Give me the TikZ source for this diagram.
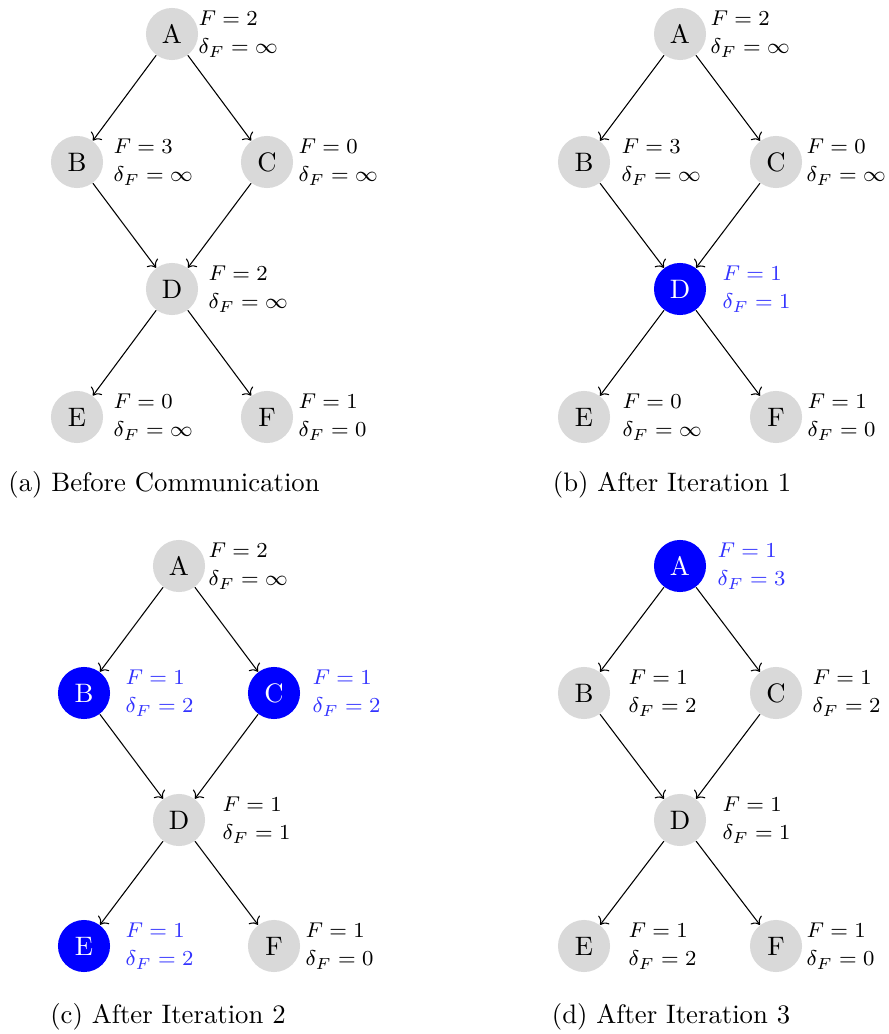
\documentclass[tikz,border=0pt]{standalone}
\usepackage{amsmath,amssymb}
\usepackage{tikz}
\usetikzlibrary{arrows.meta,positioning}
\definecolor{nodegray}{HTML}{d9d9d9}
\definecolor{infoblue}{HTML}{3333ff}

\begin{document}
\begin{tikzpicture}[x=0.3745pt, y=0.3745pt,
  vtx/.style={circle, fill=nodegray, minimum size=19.5pt, inner sep=0pt},
  hot/.style={vtx, fill=blue, text=white},
  info/.style={anchor=west, inner sep=0pt, align=left, font={\fontsize{8}{10.6}\selectfont}},
  hotinfo/.style={info, text=infoblue},
  flow/.style={->, thin}]
\useasboundingbox (0,0) rectangle (888,-1034);

% (a) before communication
\node[vtx] (Aa) at (172,-34) {A};
\node[vtx] (Ba) at (77,-162) {B};
\node[vtx] (Ca) at (267,-162) {C};
\node[vtx] (Da) at (172,-289) {D};
\node[vtx] (Ea) at (77,-417) {E};
\node[vtx] (Fa) at (267,-417) {F};
\node[info] (iAa) at (198,-34) {$F=2$\\$\delta_F=\infty$};
\node[info] (iBa) at (113,-162) {$F=3$\\$\delta_F=\infty$};
\node[info] (iCa) at (298,-162) {$F=0$\\$\delta_F=\infty$};
\node[info] (iDa) at (208,-289) {$F=2$\\$\delta_F=\infty$};
\node[info] (iEa) at (113,-417) {$F=0$\\$\delta_F=\infty$};
\node[info] (iFa) at (298,-417) {$F=1$\\$\delta_F=0$};
\draw[flow] (Aa) -- (Ba);
\draw[flow] (Aa) -- (Ca);
\draw[flow] (Ba) -- (Da);
\draw[flow] (Ca) -- (Da);
\draw[flow] (Da) -- (Ea);
\draw[flow] (Da) -- (Fa);
\node (capa) at (164,-485) {(a) Before Communication};

% (b) after iteration 1
\node[vtx] (Ab) at (680,-34) {A};
\node[vtx] (Bb) at (584,-162) {B};
\node[vtx] (Cb) at (776,-162) {C};
\node[hot] (Db) at (680,-289) {D};
\node[vtx] (Eb) at (584,-417) {E};
\node[vtx] (Fb) at (776,-417) {F};
\node[info] (iAb) at (710,-34) {$F=2$\\$\delta_F=\infty$};
\node[info] (iBb) at (621,-162) {$F=3$\\$\delta_F=\infty$};
\node[info] (iCb) at (806,-162) {$F=0$\\$\delta_F=\infty$};
\node[hotinfo] (iDb) at (722,-289) {$F=1$\\$\delta_F=1$};
\node[info] (iEb) at (622,-417) {$F=0$\\$\delta_F=\infty$};
\node[info] (iFb) at (807,-417) {$F=1$\\$\delta_F=0$};
\draw[flow] (Ab) -- (Bb);
\draw[flow] (Ab) -- (Cb);
\draw[flow] (Bb) -- (Db);
\draw[flow] (Cb) -- (Db);
\draw[flow] (Db) -- (Eb);
\draw[flow] (Db) -- (Fb);
\node (capb) at (672,-485) {(b) After Iteration 1};

% (c) after iteration 2
\node[vtx] (Ac) at (179,-566) {A};
\node[hot] (Bc) at (84,-693) {B};
\node[hot] (Cc) at (274,-693) {C};
\node[vtx] (Dc) at (179,-820) {D};
\node[hot] (Ec) at (84,-946) {E};
\node[vtx] (Fc) at (274,-946) {F};
\node[info] (iAc) at (208,-566) {$F=2$\\$\delta_F=\infty$};
\node[hotinfo] (iBc) at (125,-693) {$F=1$\\$\delta_F=2$};
\node[hotinfo] (iCc) at (312,-693) {$F=1$\\$\delta_F=2$};
\node[info] (iDc) at (222,-820) {$F=1$\\$\delta_F=1$};
\node[hotinfo] (iEc) at (125,-946) {$F=1$\\$\delta_F=2$};
\node[info] (iFc) at (305,-946) {$F=1$\\$\delta_F=0$};
\draw[flow] (Ac) -- (Bc);
\draw[flow] (Ac) -- (Cc);
\draw[flow] (Bc) -- (Dc);
\draw[flow] (Cc) -- (Dc);
\draw[flow] (Dc) -- (Ec);
\draw[flow] (Dc) -- (Fc);
\node (capc) at (168,-1017) {(c) After Iteration 2};

% (d) after iteration 3
\node[hot] (Ad) at (680,-566) {A};
\node[vtx] (Bd) at (584,-693) {B};
\node[vtx] (Cd) at (776,-693) {C};
\node[vtx] (Dd) at (680,-820) {D};
\node[vtx] (Ed) at (584,-946) {E};
\node[vtx] (Fd) at (776,-946) {F};
\node[hotinfo] (iAd) at (717,-566) {$F=1$\\$\delta_F=3$};
\node[info] (iBd) at (628,-693) {$F=1$\\$\delta_F=2$};
\node[info] (iCd) at (812,-693) {$F=1$\\$\delta_F=2$};
\node[info] (iDd) at (722,-820) {$F=1$\\$\delta_F=1$};
\node[info] (iEd) at (628,-946) {$F=1$\\$\delta_F=2$};
\node[info] (iFd) at (806,-946) {$F=1$\\$\delta_F=0$};
\draw[flow] (Ad) -- (Bd);
\draw[flow] (Ad) -- (Cd);
\draw[flow] (Bd) -- (Dd);
\draw[flow] (Cd) -- (Dd);
\draw[flow] (Dd) -- (Ed);
\draw[flow] (Dd) -- (Fd);
\node (capd) at (671,-1017) {(d) After Iteration 3};
\end{tikzpicture}
\end{document}
